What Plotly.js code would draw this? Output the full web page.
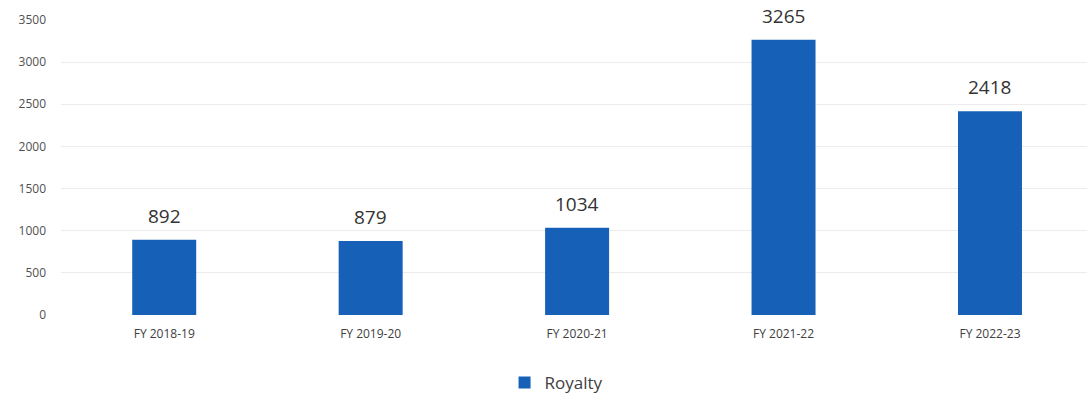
<!DOCTYPE html>
<html><head><meta charset="utf-8">
<script src="https://cdn.plot.ly/plotly-3.0.1.min.js"></script>
<style>html,body{margin:0;padding:0;background:#fff}#c{width:1087px;height:401px}</style>
</head><body><div id="c"></div>
<script>
const categories = ["FY 2018-19", "FY 2019-20", "FY 2020-21", "FY 2021-22", "FY 2022-23"];
const royalty = [892, 879, 1034, 3265, 2418];
const seriesName = "Royalty";
const yTicks = [0, 500, 1000, 1500, 2000, 2500, 3000, 3500];

const font = "Open Sans, Liberation Sans, sans-serif";
const trace = {
  type: "bar", x: categories, y: royalty, name: seriesName,
  marker: {color: "#1660b8"}, width: 0.31, showlegend: true,
  hoverinfo: "none"
};
const annotations = categories.map((c, i) => ({
  x: c, y: royalty[i], xref: "x", yref: "y", text: String(royalty[i]),
  showarrow: false, yanchor: "bottom", yshift: 9,
  font: {family: font, size: 19, color: "#333"}
}));
const layout = {
  width: 1087, height: 401,
  margin: {l: 61, r: 0, t: 20, b: 86},
  paper_bgcolor: "#fff", plot_bgcolor: "#fff",
  xaxis: {type: "category", range: [-0.5, 4.47], showgrid: false, zeroline: false,
    showline: false, ticks: "", ticklabelstandoff: 10,
    tickfont: {family: font, size: 12, color: "#404040"}},
  yaxis: {range: [0, 3500], tickvals: yTicks, showgrid: true, gridcolor: "#ececec",
    zeroline: false, showline: false, ticks: "", ticklabelstandoff: 14,
    tickfont: {family: font, size: 12, color: "#505050"}},
  showlegend: true,
  legend: {orientation: "h", x: 0.483, xanchor: "center", y: -0.23, yanchor: "middle",
    font: {family: font, size: 17, color: "#404040"}},
  annotations: annotations
};
Plotly.newPlot("c", [trace], layout, {staticPlot: true});
</script></body></html>
